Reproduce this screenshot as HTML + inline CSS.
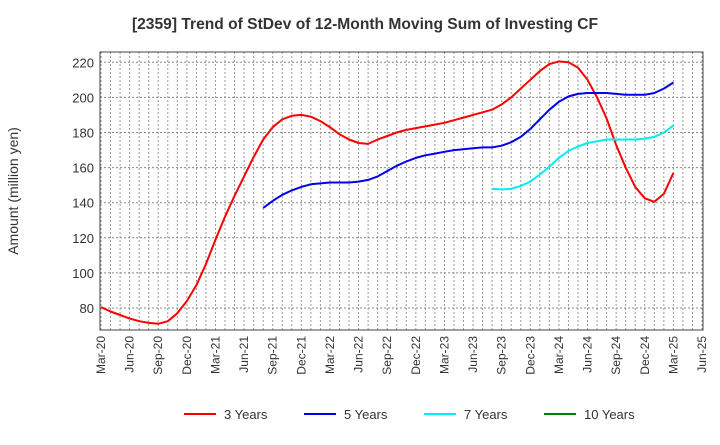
<!DOCTYPE html>
<html><head><meta charset="utf-8"><style>
body{margin:0;background:#fff;font-family:"Liberation Sans",Arial,sans-serif}
svg text{font-family:"Liberation Sans",Arial,sans-serif}
</style></head><body>
<svg id="c" width="720" height="440" xmlns="http://www.w3.org/2000/svg">
<text x="365" y="29" text-anchor="middle" font-size="15.6" font-weight="bold" fill="#333">[2359]  Trend of StDev of 12-Month Moving Sum of Investing CF</text>
<text transform="translate(18,191) rotate(-90)" text-anchor="middle" font-size="14" fill="#333">Amount (million yen)</text>
<g id="grid"></g><g id="series"></g><g id="axes"></g><g id="legend"></g>
</svg>
<script>
const xLabels=["Mar-20","Jun-20","Sep-20","Dec-20","Mar-21","Jun-21","Sep-21","Dec-21","Mar-22","Jun-22","Sep-22","Dec-22","Mar-23","Jun-23","Sep-23","Dec-23","Mar-24","Jun-24","Sep-24","Dec-24","Mar-25","Jun-25"];
const yTicks=[80,100,120,140,160,180,200,220];
const s3=[80.5,78,76,74,72.5,71.5,71,72.5,77,84,93,105,119,132,144,155,166,176,183,187.5,189.5,190,189,186.5,183,179,176,174,173.5,176,178,180,181.5,182.5,183.5,184.5,185.5,187,188.5,190,191.5,193,196,200,205,210,215,219,220.5,220,217,210,200,188,173,160,149,142.5,140.5,145,157];
const s5=[137,141,144.5,147,149,150.5,151,151.5,151.5,151.5,152,153,155,158,161,163.5,165.5,167,168,169,170,170.5,171,171.5,171.5,172.5,174.5,177.5,182,187.5,193,197.5,200.5,202,202.5,202.5,202.5,202,201.5,201.5,201.5,202.5,205,208.5];
const s5Start=17;
const s7=[148,147.5,148,149.5,152,156,160.5,165.5,169.5,172,174,175,176,176,176,176,176.5,177.5,180,184];
const s7Start=41;
const s10=[];
const L=100,R=703,T=52,B=330;
const X=i=>101+i*(702-101)/63;
const Y=v=>62.3+(220-v)*(308-62.3)/140;
const NS="http://www.w3.org/2000/svg";
function mk(tag,attrs,parent){const e=document.createElementNS(NS,tag);for(const k in attrs)e.setAttribute(k,attrs[k]);parent.appendChild(e);return e;}
const grid=document.getElementById('grid'),axes=document.getElementById('axes'),ser=document.getElementById('series'),leg=document.getElementById('legend');
for(let m=0;m<=63;m++){const g=mk('line',{x1:X(m),x2:X(m),y1:T,y2:B,stroke:'#999','stroke-width':1,'stroke-dasharray':'2,2'},grid);

}
yTicks.forEach(v=>{const g=mk('line',{x1:L,x2:R,y1:Y(v),y2:Y(v),stroke:'#888','stroke-width':1,'stroke-dasharray':'2,2'},grid);


const t=mk('text',{x:L-6,y:Y(v)+5,'text-anchor':'end','font-size':13,fill:'#333'},axes);t.textContent=v;

});
xLabels.forEach((lab,i)=>{const x=X(i*3);const t=mk('text',{transform:`translate(${x+4},${B+6}) rotate(-90)`,'text-anchor':'end','font-size':12,fill:'#333'},axes);t.textContent=lab;

});
const fr=mk('rect',{x:L,y:T,width:R-L,height:B-T,fill:'none',stroke:'#444','stroke-width':1},axes);


function line(arr,start,color,name){if(!arr.length)return;const d=arr.map((v,i)=>(i?'L':'M')+X(start+i).toFixed(1)+','+Y(v).toFixed(1)).join('');
const p=mk('path',{d:d,fill:'none',stroke:color,'stroke-width':2,'stroke-linejoin':'round'},ser);

}
line(s3,0,'#ff0000','line-3-years');
line(s5,s5Start,'#0000ee','line-5-years');
line(s7,s7Start,'#00eeee','line-7-years');
line(s10,0,'#008000','line-10-years');
const items=[["3 Years","#ff0000",184],["5 Years","#0000ee",304],["7 Years","#00eeee",424],["10 Years","#008000",544]];
items.forEach(([lab,c,x])=>{const g=mk('g',{},leg);


mk('line',{x1:x,x2:x+32,y1:414,y2:414,stroke:c,'stroke-width':2},g);
const t=mk('text',{x:x+40,y:419,'font-size':13,fill:'#333'},g);t.textContent=lab;});
</script>
</body></html>
